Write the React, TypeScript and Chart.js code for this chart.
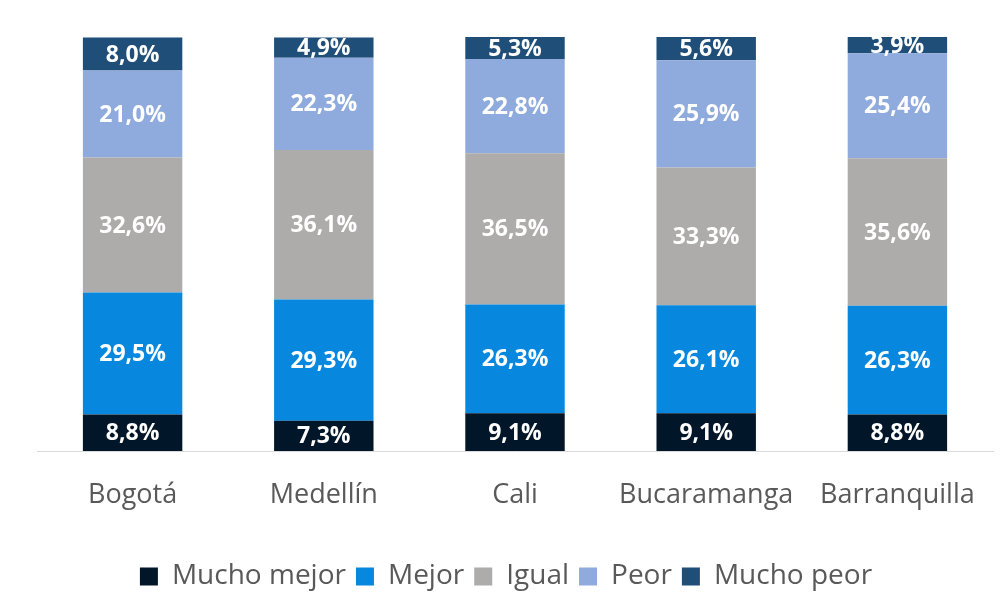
import React, { useEffect, useRef } from "react";
import { Chart, registerables } from "chart.js";

Chart.register(...registerables);

const categories = ["Bogotá", "Medellín", "Cali", "Bucaramanga", "Barranquilla"];
const seriesNames = ["Mucho mejor", "Mejor", "Igual", "Peor", "Mucho peor"];
const muchoMejor = [8.8, 7.3, 9.1, 9.1, 8.8];
const mejor = [29.5, 29.3, 26.3, 26.1, 26.3];
const igual = [32.6, 36.1, 36.5, 33.3, 35.6];
const peor = [21.0, 22.3, 22.8, 25.9, 25.4];
const muchoPeor = [8.0, 4.9, 5.3, 5.6, 3.9];
const colors = ["#021629", "#0787de", "#aeabab", "#8faadc", "#1f4e79"];

const FONT = "'Open Sans', 'Noto Sans', sans-serif";

const labelPlugin = {
  id: "segLabels",
  afterLayout(chart: any) {
    if (chart.legend) {
      chart.legend.left -= 9;
      chart.legend.right -= 9;
    }
  },
  afterDatasetsDraw(chart: any) {
    const ctx = chart.ctx;
    ctx.save();
    ctx.font = `bold 23px ${FONT}`;
    ctx.fillStyle = "#ffffff";
    ctx.textAlign = "center";
    ctx.textBaseline = "middle";
    chart.data.datasets.forEach((ds: any, i: number) => {
      const meta = chart.getDatasetMeta(i);
      meta.data.forEach((bar: any, j: number) => {
        const v = ds.data[j];
        const y = (bar.y + bar.base) / 2;
        ctx.fillText(v.toFixed(1).replace(".", ",") + "%", bar.x, y + 1);
      });
    });
    ctx.restore();
  },
};

export default function App() {
  const ref = useRef<HTMLCanvasElement>(null);
  useEffect(() => {
    document.body.style.margin = "0";
    const all = [muchoMejor, mejor, igual, peor, muchoPeor];
    const chart = new Chart(ref.current!, {
      type: "bar",
      data: {
        labels: categories,
        datasets: all.map((d, i) => ({
          label: seriesNames[i],
          data: d,
          backgroundColor: colors[i],
          borderWidth: 0,
          barPercentage: 0.52,
          categoryPercentage: 1,
        })),
      },
      options: {
        animation: false,
        responsive: false,
        maintainAspectRatio: false,
        layout: { padding: { top: 37, left: 37, right: 14, bottom: -8.5 } },
        scales: {
          x: {
            stacked: true,
            grid: { display: false },
            border: { color: "#d9d9d9", width: 1 },
            ticks: {
              color: "#595959",
              font: { family: FONT, size: 27 },
              padding: 20,
            },
            afterFit: (s: any) => {
              s.height = 101.5;
            },
          },
          y: {
            stacked: true,
            display: false,
            min: 0,
            max: 100,
          },
        },
        plugins: {
          legend: {
            position: "bottom",
            labels: {
              color: "#595959",
              font: { family: FONT, size: 28 },
              boxWidth: 18,
              boxHeight: 18,
              padding: 10,
            },
          },
          tooltip: { enabled: false },
        },
      },
      plugins: [labelPlugin],
    });
    return () => chart.destroy();
  }, []);
  return (
    <div style={{ width: 1007, height: 592 }}>
      <canvas ref={ref} width={1007} height={592} />
    </div>
  );
}
